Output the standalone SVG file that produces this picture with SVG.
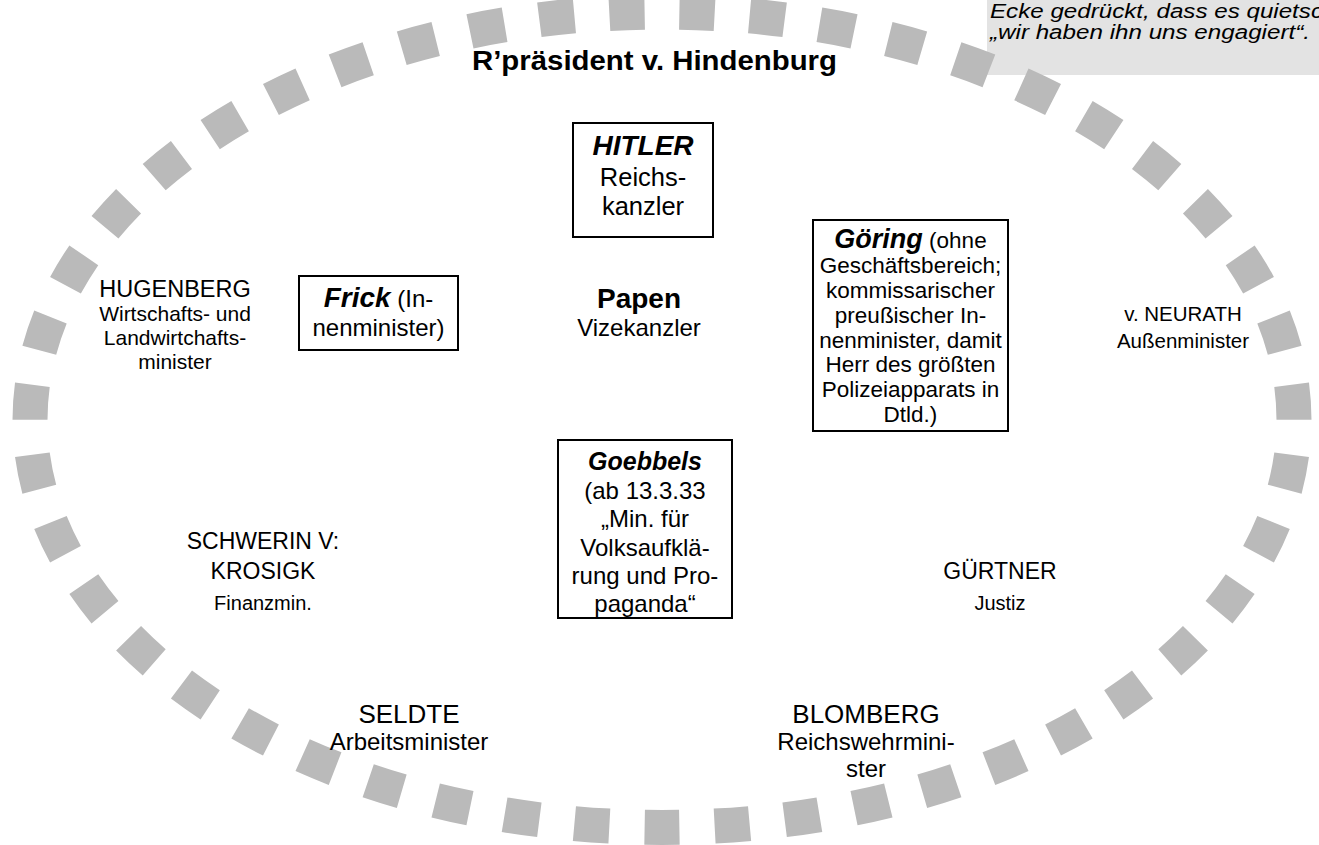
<svg xmlns="http://www.w3.org/2000/svg" width="1319" height="845" viewBox="0 0 1319 845">
<style>
text { font-family: "Liberation Sans", Arial, Helvetica, sans-serif; fill: #000; text-anchor: middle; }
.b { font-weight: bold; }
.bi { font-weight: bold; font-style: italic; }
.box { fill: #fff; stroke: #000; stroke-width: 2; }
.ring { fill: none; stroke: #bababa; stroke-width: 35; stroke-dasharray: 35 35; stroke-dashoffset: 17.5; stroke-linecap: butt; }
.note { fill: #e3e3e3; }
.nt { font-style: italic; font-size: 20px; text-anchor: start; }
</style>
<rect width="1319" height="845" fill="#fff"/>
<g id="note">
  <rect class="note" x="987" y="0" width="332" height="75"/>
  <text class="nt" x="990" y="18" textLength="333" lengthAdjust="spacingAndGlyphs">Ecke gedrückt, dass es quietsc</text>
  <text class="nt" x="990" y="39" textLength="320" lengthAdjust="spacingAndGlyphs">„wir haben ihn uns engagiert“.</text>
</g>
<g id="ring">
  <path class="ring" pathLength="3290" d="M662,827.5 A632,408 0 0 1 30,420 A632,408 0 0 1 662,12 A632,408 0 0 1 1294,420 A632,408 0 0 1 662,827.5 Z"/>
</g>
<g id="connectors"></g>
<g id="hindenburg">
  <text class="b" x="654.5" y="70" font-size="27" textLength="365" lengthAdjust="spacingAndGlyphs">R’präsident v. Hindenburg</text>
</g>
<g id="hitler">
  <rect class="box" x="573" y="123" width="140" height="114"/>
  <text class="bi" x="643" y="155" font-size="28">HITLER</text>
  <text x="643" y="186" font-size="25.5">Reichs-</text>
  <text x="643" y="215" font-size="25.5">kanzler</text>
</g>
<g id="papen">
  <text class="b" x="639" y="308" font-size="28">Papen</text>
  <text x="639" y="336" font-size="24">Vizekanzler</text>
</g>
<g id="frick">
  <rect class="box" x="299" y="276" width="159" height="74"/>
  <text x="378.5" y="307" font-size="24"><tspan class="bi" font-size="28">Frick</tspan> (In-</text>
  <text x="378.5" y="336" font-size="24">nenminister)</text>
</g>
<g id="hugenberg">
  <text x="175" y="297" font-size="23.5">HUGENBERG</text>
  <text x="175" y="321" font-size="21">Wirtschafts- und</text>
  <text x="175" y="345" font-size="21">Landwirtchafts-</text>
  <text x="175" y="369" font-size="21">minister</text>
</g>
<g id="goering">
  <rect class="box" x="813" y="220" width="195" height="211"/>
  <text x="910.5" y="248" font-size="22.5"><tspan class="bi" font-size="27">Göring</tspan> (ohne</text>
  <text x="910.5" y="273" font-size="22.5">Geschäftsbereich;</text>
  <text x="910.5" y="298" font-size="22.5">kommissarischer</text>
  <text x="910.5" y="323" font-size="22.5">preußischer In-</text>
  <text x="910.5" y="348" font-size="22.5">nenminister, damit</text>
  <text x="910.5" y="372" font-size="22.5">Herr des größten</text>
  <text x="910.5" y="397" font-size="22.5">Polizeiapparats in</text>
  <text x="910.5" y="422" font-size="22.5">Dtld.)</text>
</g>
<g id="neurath">
  <text x="1183" y="321" font-size="20.5">v. NEURATH</text>
  <text x="1183" y="348" font-size="20.5">Außenminister</text>
</g>
<g id="goebbels">
  <rect class="box" x="558" y="440" width="174" height="178"/>
  <text class="bi" x="645" y="470" font-size="25">Goebbels</text>
  <text x="645" y="499" font-size="24">(ab 13.3.33</text>
  <text x="645" y="527" font-size="24">„Min. für</text>
  <text x="645" y="556" font-size="24">Volksaufklä-</text>
  <text x="645" y="584" font-size="24">rung und Pro-</text>
  <text x="645" y="612" font-size="24">paganda“</text>
</g>
<g id="schwerin">
  <text x="263" y="549" font-size="23">SCHWERIN V:</text>
  <text x="263" y="579" font-size="23">KROSIGK</text>
  <text x="263" y="610" font-size="20">Finanzmin.</text>
</g>
<g id="guertner">
  <text x="1000" y="579" font-size="23">GÜRTNER</text>
  <text x="1000" y="610" font-size="20">Justiz</text>
</g>
<g id="seldte">
  <text x="409" y="723" font-size="26">SELDTE</text>
  <text x="409" y="750" font-size="24">Arbeitsminister</text>
</g>
<g id="blomberg">
  <text x="866" y="723" font-size="26">BLOMBERG</text>
  <text x="866" y="750" font-size="24">Reichswehrmini-</text>
  <text x="866" y="777" font-size="24">ster</text>
</g>
</svg>
